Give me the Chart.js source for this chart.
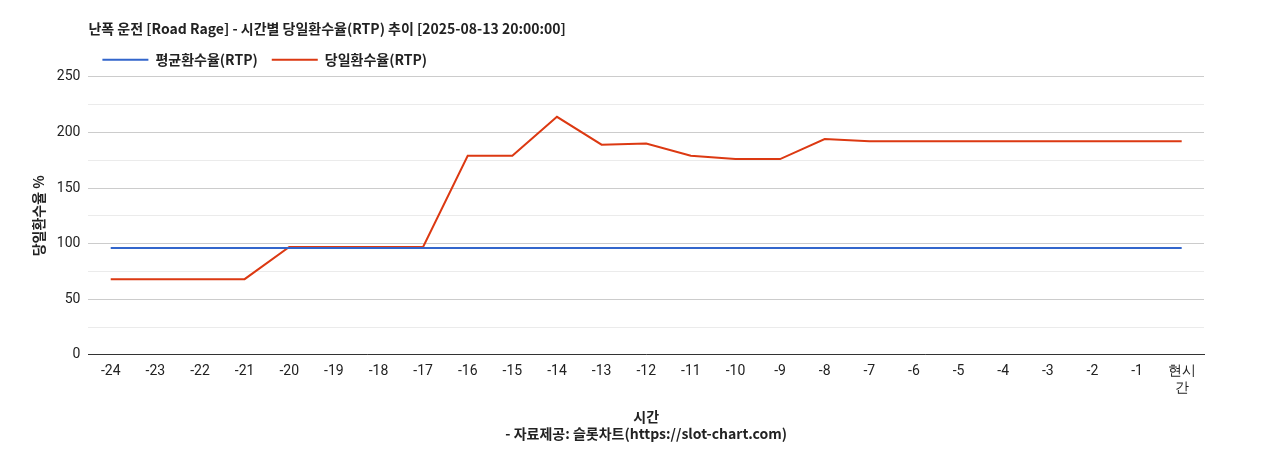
<!DOCTYPE html>
<html><head><meta charset="utf-8">
<script src="https://cdn.jsdelivr.net/npm/chart.js@4"></script>
<style>html,body{margin:0;padding:0;background:#fff}#w{width:1268px;height:450px}</style>
</head><body><div id="w"><canvas id="c"></canvas></div>
<script>
const categories = ['-24','-23','-22','-21','-20','-19','-18','-17','-16','-15','-14','-13','-12','-11','-10','-9','-8','-7','-6','-5','-4','-3','-2','-1',['현시','간']];
const avgRTP = [96,96,96,96,96,96,96,96,96,96,96,96,96,96,96,96,96,96,96,96,96,96,96,96,96];
const dayRTP = [68,68,68,68,97,97,97,97,179,179,214,189,190,179,176,176,194,192,192,192,192,192,192,192,192];
const yTicks = [0,50,100,150,200,250];
Chart.defaults.font.family = "'Noto Sans CJK KR','Noto Sans',sans-serif";
Chart.defaults.color = '#222';
new Chart(document.getElementById('c'), {
  type: 'line',
  data: { labels: categories, datasets: [
    { label: '평균환수율(RTP)', data: avgRTP, borderColor: '#3366cc', backgroundColor: '#3366cc', borderWidth: 2, pointRadius: 0, tension: 0 },
    { label: '당일환수율(RTP)', data: dayRTP, borderColor: '#dc3912', backgroundColor: '#dc3912', borderWidth: 2, pointRadius: 0, tension: 0 }
  ]},
  options: {
    responsive: true, maintainAspectRatio: false, animation: false,
    layout: { padding: { left: 28, right: 64, top: 20, bottom: 4 } },
    plugins: {
      title: { display: true, fullSize: false, align: 'start', text: '난폭 운전 [Road Rage] - 시간별 당일환수율(RTP) 추이 [2025-08-13 20:00:00]', font: { size: 14, weight: 'bold' }, color: '#222', padding: { top: 0, bottom: 2 } },
      legend: { fullSize: false, align: 'start', labels: { boxWidth: 46, boxHeight: 0, font: { size: 14, weight: 'bold' }, color: '#222', padding: 14 } },
      tooltip: { enabled: false }
    },
    scales: {
      x: {
        offset: true,
        grid: { display: false, drawTicks: false },
        border: { color: '#333' },
        ticks: { font: { family: 'Roboto', size: 14 }, color: '#222', maxRotation: 0, autoSkip: false, padding: 8 },
        title: { display: true, text: ['시간', '- 자료제공: 슬롯차트(https://slot-chart.com)'], font: { size: 14, weight: 'bold' }, color: '#222', padding: { top: 4 } }
      },
      y: {
        min: 0, max: 250,
        afterBuildTicks: a => { a.ticks = [0,25,50,75,100,125,150,175,200,225,250].map(v => ({ value: v })); },
        grid: { color: c => (c.tick && c.tick.value % 50 === 0) ? '#cccccc' : '#ebebeb', drawTicks: false },
        border: { display: false },
        ticks: { font: { family: 'Roboto', size: 14 }, color: '#222', padding: 8, callback: v => yTicks.includes(v) ? v : '' },
        title: { display: true, text: '당일환수율 %', font: { size: 14, weight: 'bold' }, color: '#222', padding: 2 }
      }
    }
  }
});
</script></body></html>
